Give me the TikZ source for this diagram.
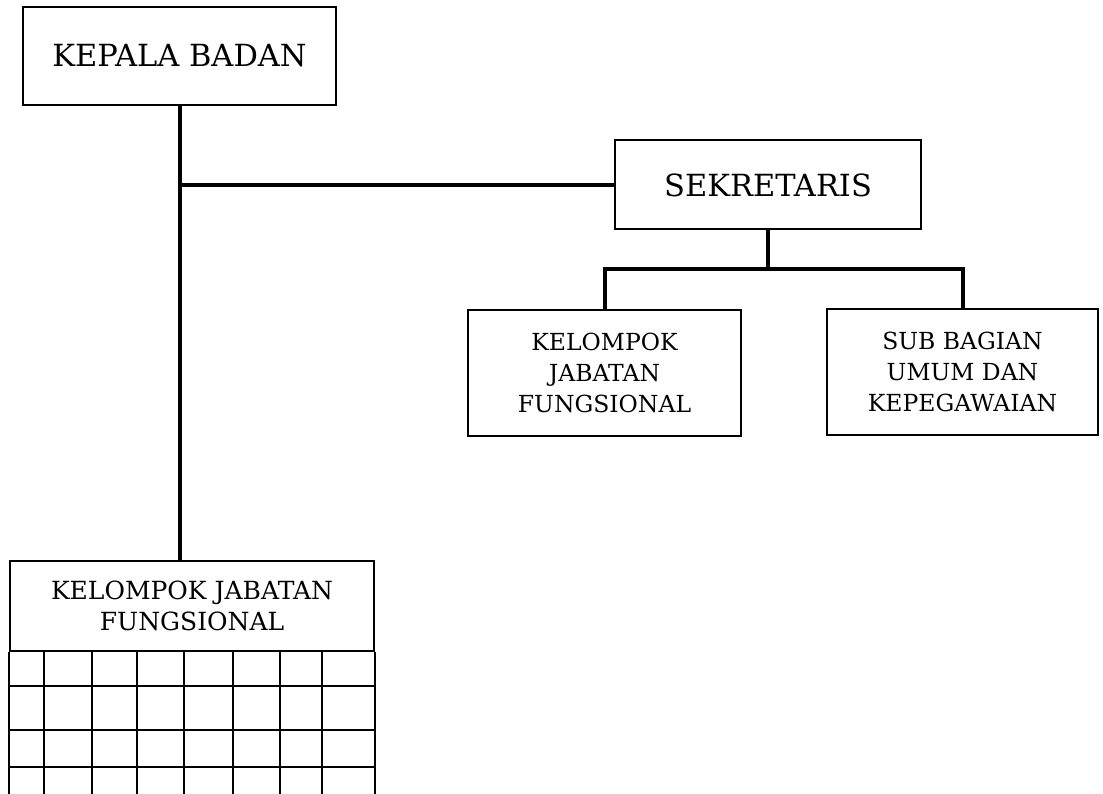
\documentclass[tikz,border=0pt]{standalone}
\usepackage{fontspec}
\setmainfont{DejaVu Serif}
\tikzset{
  kotak/.style={draw, line width=2pt, align=center, inner sep=0pt},
  besar/.style={kotak, font=\fontsize{30.5}{36}\selectfont},
  kecil/.style={kotak, font=\fontsize{23.5}{31}\selectfont},
  garis/.style={line width=4pt},
  tipis/.style={line width=2pt},
}
\begin{document}
\begin{tikzpicture}[x=1pt,y=-1pt]
	\useasboundingbox (0,0) rectangle (1103,794);
	\clip (0,0) rectangle (1103,794);
	
	%%%%% kotak %%%%%
	\node[besar, minimum width=313pt, minimum height=98pt] (kepala) at (179.5,56) {KEPALA BADAN};
	\node[besar, minimum width=306pt, minimum height=89pt] (sekretaris) at (768,185) {SEKRETARIS};
	\node[kecil, minimum width=273pt, minimum height=126pt] (kjf) at (604.5,373) {KELOMPOK\\JABATAN\\FUNGSIONAL};
	\node[kecil, minimum width=271pt, minimum height=126pt] (subbag) at (962.5,372) {SUB BAGIAN\\UMUM DAN\\KEPEGAWAIAN};
	\node[kecil, font=\fontsize{25}{31}\selectfont, minimum width=364pt, minimum height=90pt] (kjfbawah) at (192,606) {KELOMPOK JABATAN\\FUNGSIONAL};
	
	%%%%% garis %%%%%
	\draw[garis] (kepala.south) -- (kjfbawah.north -| kepala.south);
	\draw[garis] (sekretaris.west) -- (sekretaris.west -| kepala.south);
	\coordinate (cabang) at (768,269);
	\draw[garis] (sekretaris.south) -- (cabang);
	\draw[garis] (kjf.north) |- (cabang) -| (subbag.north);
	
	%%%%% tabel %%%%%
	\draw[tipis] (kjfbawah.south west) -- ++(0,160);
	\draw[tipis] (kjfbawah.south east) -- ++(0,160);
	\foreach \x in {44,92,137,184,233,280,322}
		\draw[tipis] (\x,651) -- (\x,810);
	\foreach \y in {686,730,767}
		\draw[tipis] (10,\y) -- (374,\y);
\end{tikzpicture}
\end{document}
